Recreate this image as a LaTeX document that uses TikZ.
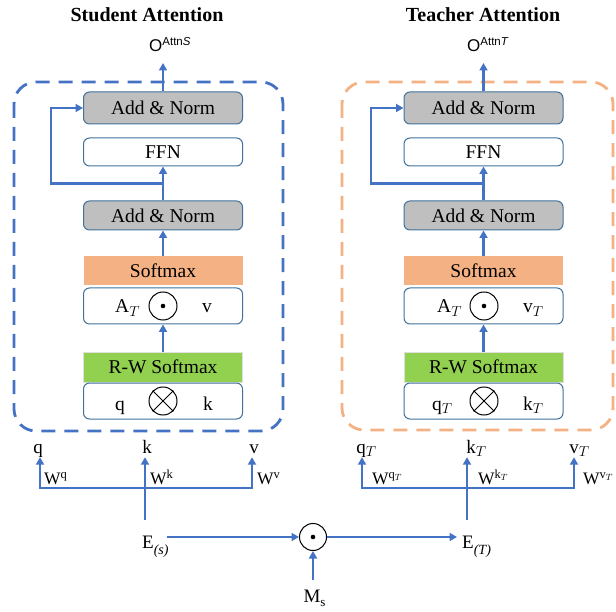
\documentclass[tikz,border=0pt]{standalone}
\usepackage{fontspec}
\setmainfont{Liberation Serif}
\newfontfamily\sansfam{Liberation Sans}
\usetikzlibrary{arrows.meta,calc}

\definecolor{flowblue}{HTML}{4472C4}
\definecolor{edgeblue}{HTML}{41719C}
\definecolor{normgray}{HTML}{BFBFBF}
\definecolor{softorange}{HTML}{F4B183}
\definecolor{rwgreen}{HTML}{92D050}

\tikzset{
  flow/.style={draw=flowblue, line width=2.5pt, -{Triangle[length=7.5pt,width=8pt]}},
  blockbase/.style={minimum width=159pt, inner sep=0pt, font=\fontsize{19.5}{20}\selectfont},
  normbox/.style={blockbase, draw=edgeblue, line width=1pt, fill=normgray, rounded corners=6pt},
  plainbox/.style={blockbase, draw=edgeblue, line width=1pt, fill=white, rounded corners=6pt},
  softbox/.style={blockbase, fill=softorange},
  rwbox/.style={blockbase, fill=rwgreen, draw=black!12, line width=0.6pt},
  opcircle/.style={circle, draw=black, line width=1pt, minimum size=28pt, inner sep=0pt},
  boxtext/.style={font=\fontsize{19.5}{20}\selectfont, inner sep=0pt, anchor=base west},
  iolabel/.style={font=\fontsize{19}{20}\selectfont, inner sep=1pt, text height=12pt, text depth=3pt, anchor=base},
  wlabel/.style={font=\fontsize{17.5}{18}\selectfont, inner sep=0pt, anchor=base west},
  headline/.style={font=\bfseries\fontsize{20}{22}\selectfont, anchor=base},
  outlabel/.style={anchor=base west, inner sep=0pt},
  studash/.style={draw=flowblue, line width=2.8pt, dash pattern=on 14pt off 9pt, rounded corners=22pt},
  teadash/.style={draw=softorange, line width=2.8pt, dash pattern=on 14pt off 9pt, rounded corners=22pt},
}

\newcommand\outtext[1]{{\sansfam\fontsize{17}{17}\selectfont O\raisebox{6pt}{\fontsize{11.5}{12}\selectfont Attn\textit{#1}}}}
\newcommand\lowsub[1]{\raisebox{-6pt}{\fontsize{14}{14}\selectfont\itshape #1}}
\newcommand\wsup[1]{\raisebox{6pt}{\fontsize{12.5}{13}\selectfont #1}}

\begin{document}
\begin{tikzpicture}[x=1pt, y=-1pt]
\useasboundingbox (0,0) rectangle (616,612);

% dashed frames of the two attention blocks
\draw[studash] (14,82) rectangle (283,431);
\draw[teadash] (342,82) rectangle (613,430);

% ---------------- student block ----------------
\node[headline] (sTitle) at (147,22) {Student Attention};
\node[outlabel] (sOut) at (149,52) {\outtext{S}};
\coordinate (sOutTip) at (163,63);

\node[normbox, minimum height=32pt] (sAN1) at (163,108) {Add \& Norm};
\node[plainbox, minimum height=28pt] (sFFN) at (163,152) {FFN};
\node[normbox, minimum height=29pt] (sAN2) at (163,215.5) {Add \& Norm};
\node[softbox, minimum height=29pt] (sSM) at (163,270.5) {Softmax};
\node[plainbox, minimum height=36pt] (sAV) at (163,306) {};
\node[rwbox, minimum height=30pt] (sRW) at (163,367) {R-W Softmax};
\node[plainbox, minimum height=36pt] (sQK) at (163,401) {};

\node[boxtext] (sA) at (115,313) {A$_{T}$};
\node[opcircle] (sDot) at (163,306) {};
\fill (sDot.center) circle (2.3pt);
\node[boxtext] (sV) at (202,313) {v};

\node[boxtext] (sQ) at (115,410) {q};
\node[opcircle] (sX) at (163,401) {};
\draw[line width=1pt] (sX.north west) -- (sX.south east) (sX.north east) -- (sX.south west);
\node[boxtext] (sK) at (203,410) {k};

\coordinate (sBranch) at ($(sAN2.north)!0.5!(sFFN.south)$);
\draw[flow] (sAN1.north) -- (sOutTip);
\draw[flow] (sBranch) -- ++(-112,0) |- (sAN1.west);
\draw[flow] (sAN2.north) -- (sFFN.south);
\draw[flow] (sSM.north) -- (sAN2.south);
\draw[flow] (sRW.north) -- (sAV.south);

% ---------------- teacher block ----------------
\node[headline] (tTitle) at (483,22) {Teacher Attention};
\node[outlabel] (tOut) at (467,52) {\outtext{T}};
\coordinate (tOutTip) at (483.5,63);

\node[normbox, minimum height=32pt] (tAN1) at (483.5,108) {Add \& Norm};
\node[plainbox, minimum height=28pt] (tFFN) at (483.5,152) {FFN};
\node[normbox, minimum height=29pt] (tAN2) at (483.5,215.5) {Add \& Norm};
\node[softbox, minimum height=29pt] (tSM) at (483.5,270.5) {Softmax};
\node[plainbox, minimum height=36pt] (tAV) at (483.5,306) {};
\node[rwbox, minimum height=30pt] (tRW) at (483.5,367) {R-W Softmax};
\node[plainbox, minimum height=36pt] (tQK) at (483.5,401) {};

\node[boxtext] (tA) at (437,313) {A$_{T}$};
\node[opcircle] (tDot) at (484,306) {};
\fill (tDot.center) circle (2.3pt);
\node[boxtext] (tV) at (523,313) {v$_{T}$};

\node[boxtext] (tQ) at (432,410) {q$_{T}$};
\node[opcircle] (tX) at (484,401) {};
\draw[line width=1pt] (tX.north west) -- (tX.south east) (tX.north east) -- (tX.south west);
\node[boxtext] (tK) at (523,410) {k$_{T}$};

\coordinate (tBranch) at ($(tAN2.north)!0.5!(tFFN.south)$);
\draw[flow] (tAN1.north) -- (tOutTip);
\draw[flow] (tBranch) -- ++(-112.5,0) |- (tAN1.west);
\draw[flow] (tAN2.north) -- (tFFN.south);
\draw[flow] (tSM.north) -- (tAN2.south);
\draw[flow] (tRW.north) -- (tAV.south);

% ---------------- projections of the student embedding ----------------
\node[iolabel] (sq) at (38,453) {q};
\node[iolabel] (sk) at (147,453) {k};
\node[iolabel] (sv) at (254,453) {v};
\node[wlabel] (sWq) at (44,484) {W\wsup{q}};
\node[wlabel] (sWk) at (150,484) {W\wsup{k}};
\node[wlabel] (sWv) at (257,484) {W\wsup{v}};

\node[iolabel] (Es) at (148,548) {E\rlap{\lowsub{(s)}}};
\coordinate (EsUp) at (145,520);
\coordinate (EsOut) at (167,537);
\coordinate (sBusQ) at (40,488);
\coordinate (sBusK) at (145,488);
\coordinate (sBusV) at (252,488);
\draw[flow] (EsUp) -- (EsUp |- sk.south);
\draw[flow] (sBusK) -- (sBusQ) -- (sBusQ |- sq.south);
\draw[flow] (sBusK) -- (sBusV) -- (sBusV |- sv.south);

% ---------------- masking and teacher embedding ----------------
\node[opcircle, minimum size=27pt] (mul) at (313,537) {};
\fill (mul.center) circle (2.3pt);
\node[iolabel] (Ms) at (312,602) {M\rlap{\raisebox{-4pt}{\fontsize{13}{13}\selectfont s}}};
\coordinate (MsUp) at (313,580);
\draw[flow] (MsUp) -- (mul.south);
\draw[flow] (EsOut) -- (mul.west);

\node[iolabel] (Et) at (468,548) {E\rlap{\lowsub{(T)}}};
\coordinate (EtIn) at (457,537);
\coordinate (EtUp) at (467,520);
\draw[flow] (mul.east) -- (EtIn);

\node[iolabel] (tq) at (361,453) {q\rlap{$_{T}$}};
\node[iolabel] (tk) at (471,453) {k\rlap{$_{T}$}};
\node[iolabel] (tv) at (574,453) {v\rlap{$_{T}$}};
\node[wlabel] (tWq) at (372,484) {W\wsup{q$_{T}$}};
\node[wlabel] (tWk) at (478,484) {W\wsup{k$_{T}$}};
\node[wlabel] (tWv) at (583,484) {W\wsup{v$_{T}$}};

\coordinate (tBusQ) at (362,488);
\coordinate (tBusK) at (467,488);
\coordinate (tBusV) at (574,488);
\draw[flow] (EtUp) -- (EtUp |- tk.south);
\draw[flow] (tBusK) -- (tBusQ) -- (tBusQ |- tq.south);
\draw[flow] (tBusK) -- (tBusV) -- (tBusV |- tv.south);
\end{tikzpicture}
\end{document}
